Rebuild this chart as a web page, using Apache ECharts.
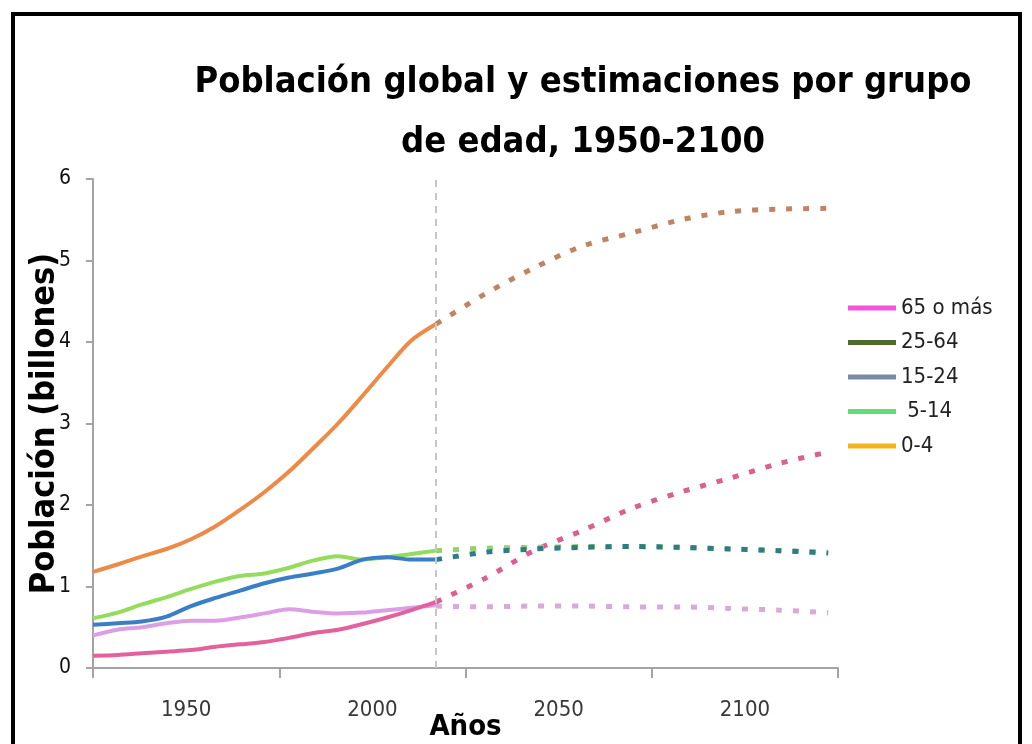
<!DOCTYPE html>
<html>
<head>
<meta charset="utf-8">
<title>Población global por grupo de edad</title>
<script src="https://cdn.jsdelivr.net/npm/echarts@6/dist/echarts.min.js"></script>
<style>
html,body{margin:0;padding:0;background:#fff;}
#chart{position:absolute;left:0;top:0;width:1032px;height:744px;}
#frame{position:absolute;left:11px;top:12px;width:1003px;height:800px;border:4px solid #000;border-bottom:none;pointer-events:none;}
</style>
</head>
<body>
<div id="chart"></div>
<div id="frame"></div>
<script>
var FONT = "'Liberation Sans Narrow','DejaVu Sans Condensed',sans-serif"

// etiquetas del eje x tal como salen en la figura
var tickLabels = ['1950', '2000', '2050', '2100']

// años de los datos (estimado / proyección)
var yearsPast = [1950, 1955, 1960, 1965, 1970, 1975, 1980, 1985, 1990, 1995, 2000, 2005, 2010, 2015, 2020]
var yearsProj = [2020, 2030, 2040, 2050, 2060, 2070, 2080, 2090, 2100]
var divider = 2020

var groupNames = ['65 o más', '25-64', '15-24', ' 5-14', '0-4']
var legendColors = ['#f255dc', '#4d6b2b', '#7c89a6', '#62dc7a', '#f3b41a']

// valores en miles de millones
var g65Past = [0.15, 0.16, 0.18, 0.20, 0.22, 0.26, 0.29, 0.32, 0.37, 0.43, 0.47, 0.54, 0.62, 0.71, 0.81]
var g65Proj = [0.81, 1.10, 1.44, 1.69, 1.96, 2.16, 2.33, 2.51, 2.65]
var g2564Past = [1.18, 1.27, 1.37, 1.46, 1.58, 1.74, 1.94, 2.16, 2.41, 2.70, 3.00, 3.34, 3.69, 4.02, 4.22]
var g2564Proj = [4.22, 4.59, 4.91, 5.18, 5.34, 5.50, 5.60, 5.63, 5.64]
var g1524Past = [0.53, 0.55, 0.57, 0.63, 0.76, 0.86, 0.95, 1.04, 1.11, 1.16, 1.22, 1.33, 1.36, 1.33, 1.33]
var g1524Proj = [1.33, 1.42, 1.46, 1.48, 1.49, 1.48, 1.46, 1.44, 1.41]
var g514Past = [0.61, 0.68, 0.78, 0.87, 0.97, 1.06, 1.13, 1.16, 1.23, 1.32, 1.37, 1.33, 1.36, 1.40, 1.44]
var g514Proj = [1.44, 1.47, 1.48, 1.49, 1.49, 1.48, 1.46, 1.44, 1.42]
var g04Past = [0.40, 0.47, 0.50, 0.55, 0.58, 0.58, 0.62, 0.67, 0.72, 0.69, 0.67, 0.68, 0.71, 0.74, 0.77]
var g04Proj = [0.76, 0.75, 0.76, 0.76, 0.75, 0.75, 0.73, 0.71, 0.68]

function pairs(xs, ys){
    return xs.map(function(x, i){ return [x, ys[i]] })
}

function line(name, xs, ys, color, proj){
    return {
        name: name,
        type: 'line',
        xAxisIndex: 1,
        data: pairs(xs, ys),
        smooth: 0.3,
        symbol: 'none',
        silent: true,
        itemStyle: {color: color},
        lineStyle: proj ? {color: color, width: 5, type: [6, 11]} : {color: color, width: 4}
    }
}

var series = [
    line('0-4', yearsPast, g04Past, '#dc9fe6', false),
    line('65 o más', yearsPast, g65Past, '#e1629f', false),
    line(' 5-14', yearsPast, g514Past, '#93dc5e', false),
    line('15-24', yearsPast, g1524Past, '#3a7fc6', false),
    line('25-64', yearsPast, g2564Past, '#ec8a48', false),
    line('0-4', yearsProj, g04Proj, '#d9aad9', true),
    line('65 o más', yearsProj, g65Proj, '#d9608f', true),
    line(' 5-14', yearsProj, g514Proj, '#8fd470', true),
    line('15-24', yearsProj, g1524Proj, '#2f7b86', true),
    line('25-64', yearsProj, g2564Proj, '#c08463', true)
]

// linea vertical entre estimado y proyeccion
series[0].markLine = {
    silent: true,
    symbol: 'none',
    label: {show: false},
    lineStyle: {color: '#c6c6c6', type: [7, 6], width: 2},
    data: [{xAxis: divider}]
}

var axisGrey = '#a4a4a4'

var chart = echarts.init(document.getElementById('chart'))
chart.setOption({
    backgroundColor: '#fff',
    animation: false,
    title: {
        text: 'Población global y estimaciones por grupo\nde edad, 1950-2100',
        left: 578,
        top: 48,
        textAlign: 'center',
        textStyle: {fontFamily: FONT, fontWeight: 'bold', fontSize: 36, lineHeight: 60, color: '#000'}
    },
    legend: {
        orient: 'vertical',
        left: 843,
        top: 292,
        icon: 'rect',
        itemWidth: 48,
        itemHeight: 5,
        itemGap: 12.5,
        selectedMode: false,
        textStyle: {fontFamily: FONT, fontSize: 22, color: '#222'},
        data: groupNames.map(function(n, i){
            return {name: n, itemStyle: {color: legendColors[i]}}
        })
    },
    grid: {left: 93, right: 194, top: 179, bottom: 76, outerBoundsMode: 'none'},
    xAxis: [{
        type: 'category',
        data: tickLabels,
        boundaryGap: true,
        name: 'Años',
        nameLocation: 'middle',
        nameGap: 45,
        nameMoveOverlap: false,
        nameTextStyle: {fontFamily: FONT, fontWeight: 'bold', fontSize: 29, color: '#000'},
        axisLine: {lineStyle: {color: axisGrey, width: 2}},
        axisTick: {show: true, interval: 0, length: 10, lineStyle: {color: axisGrey, width: 2}},
        axisLabel: {interval: 0, margin: 31, fontFamily: FONT, fontSize: 22, color: '#383838'},
        splitLine: {show: false}
    }, {
        type: 'value',
        min: 1950,
        max: 2102,
        show: false
    }],
    yAxis: {
        type: 'value',
        min: 0,
        max: 6,
        interval: 1,
        name: 'Población (billones)',
        nameLocation: 'middle',
        nameGap: 31,
        nameMoveOverlap: false,
        nameTextStyle: {fontFamily: FONT, fontWeight: 'bold', fontSize: 34, color: '#000'},
        axisLine: {show: true, lineStyle: {color: axisGrey, width: 2}},
        axisTick: {show: true, length: 7, lineStyle: {color: axisGrey, width: 2}},
        axisLabel: {margin: 22, fontFamily: FONT, fontSize: 21, color: '#111'},
        splitLine: {show: false}
    },
    series: series
})
</script>
</body>
</html>
